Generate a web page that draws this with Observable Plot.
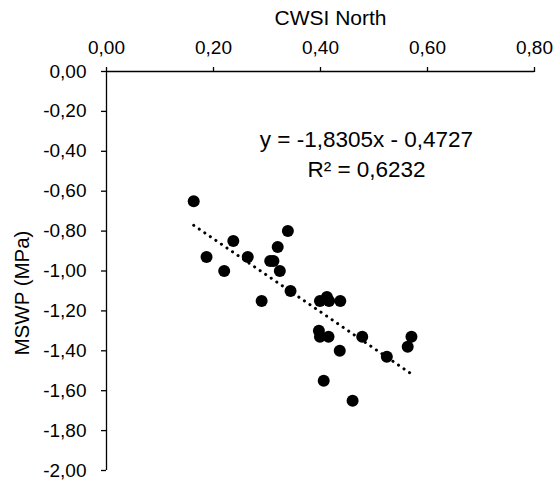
<!DOCTYPE html>
<html><head>
<meta charset="utf-8">
<script src="https://cdn.jsdelivr.net/npm/d3@7"></script>
<script src="https://cdn.jsdelivr.net/npm/@observablehq/plot@0.6"></script>
<style>body{margin:0;background:#fff}</style>
</head><body><div id="chart"></div>
<script>
const cwsi = [0.163, 0.237, 0.187, 0.220, 0.264, 0.339, 0.320, 0.306, 0.312, 0.324, 0.344, 0.290,
              0.399, 0.412, 0.416, 0.437, 0.397, 0.399, 0.415, 0.478, 0.436, 0.524, 0.570, 0.563, 0.406, 0.460];
const mswp = [-0.65, -0.85, -0.93, -1.00, -0.93, -0.80, -0.88, -0.95, -0.95, -1.00, -1.10, -1.15,
              -1.15, -1.13, -1.15, -1.15, -1.30, -1.33, -1.33, -1.33, -1.40, -1.43, -1.33, -1.38, -1.55, -1.65];
const xTicks = [0, 0.2, 0.4, 0.6, 0.8];
const yTicks = [0, -0.2, -0.4, -0.6, -0.8, -1.0, -1.2, -1.4, -1.6, -1.8, -2.0];
const slope = -1.8305;
const intercept = -0.4727;
const equationLines = ["y = -1,8305x - 0,4727", "R² = 0,6232"];
const xTitle = "CWSI North";
const yTitle = "MSWP (MPa)";

const fmt = v => (v < -1e-9 ? "-" : "") + Math.abs(v).toFixed(2).replace(".", ",");
const pts = cwsi.map((x, i) => ({x, y: mswp[i]}));
const xr = d3.extent(cwsi);
const trend = xr.map(x => ({x, y: slope * x + intercept}));

const chart = Plot.plot({
  width: 557, height: 482,
  marginTop: 71, marginLeft: 106, marginRight: 23, marginBottom: 12,
  style: {fontFamily: "'Liberation Sans', Arial, sans-serif", fontSize: "19px", color: "#000", background: "#fff"},
  x: {domain: [0, 0.8]},
  y: {domain: [-2, 0]},
  marks: [
    Plot.ruleY([0], {stroke: "#000", strokeWidth: 1.3}),
    Plot.ruleX([0], {stroke: "#000", strokeWidth: 1.3}),
    Plot.axisX(xTicks, {anchor: "top", tickSize: 5, tickPadding: 13, tickFormat: fmt, label: null, stroke: "#000", strokeWidth: 1.3, fontSize: 19}),
    Plot.axisY(yTicks, {anchor: "left", tickSize: 5, tickPadding: 15, tickFormat: fmt, label: null, stroke: "#000", strokeWidth: 1.3, fontSize: 19}),
    Plot.line(trend, {x: "x", y: "y", stroke: "#000", strokeWidth: 3, strokeDasharray: "0.1,6.6", strokeLinecap: "round"}),
    Plot.dot(pts, {x: "x", y: "y", r: 6, fill: "#000", stroke: null}),
    Plot.text([equationLines.join("\n")], {frameAnchor: "top-left", dx: 260, dy: 55, lineAnchor: "top", textAnchor: "middle", lineHeight: 1.3, fontSize: 22.5, fill: "#000"}),
    Plot.text([xTitle], {frameAnchor: "top", dx: 10, dy: -53, lineAnchor: "middle", fontSize: 21, fill: "#000"}),
    Plot.text([yTitle], {frameAnchor: "left", dx: -84, dy: 22, rotate: -90, textAnchor: "middle", lineAnchor: "middle", fontSize: 20.5, fill: "#000"})
  ]
});
document.getElementById("chart").appendChild(chart);
</script>
</body></html>
